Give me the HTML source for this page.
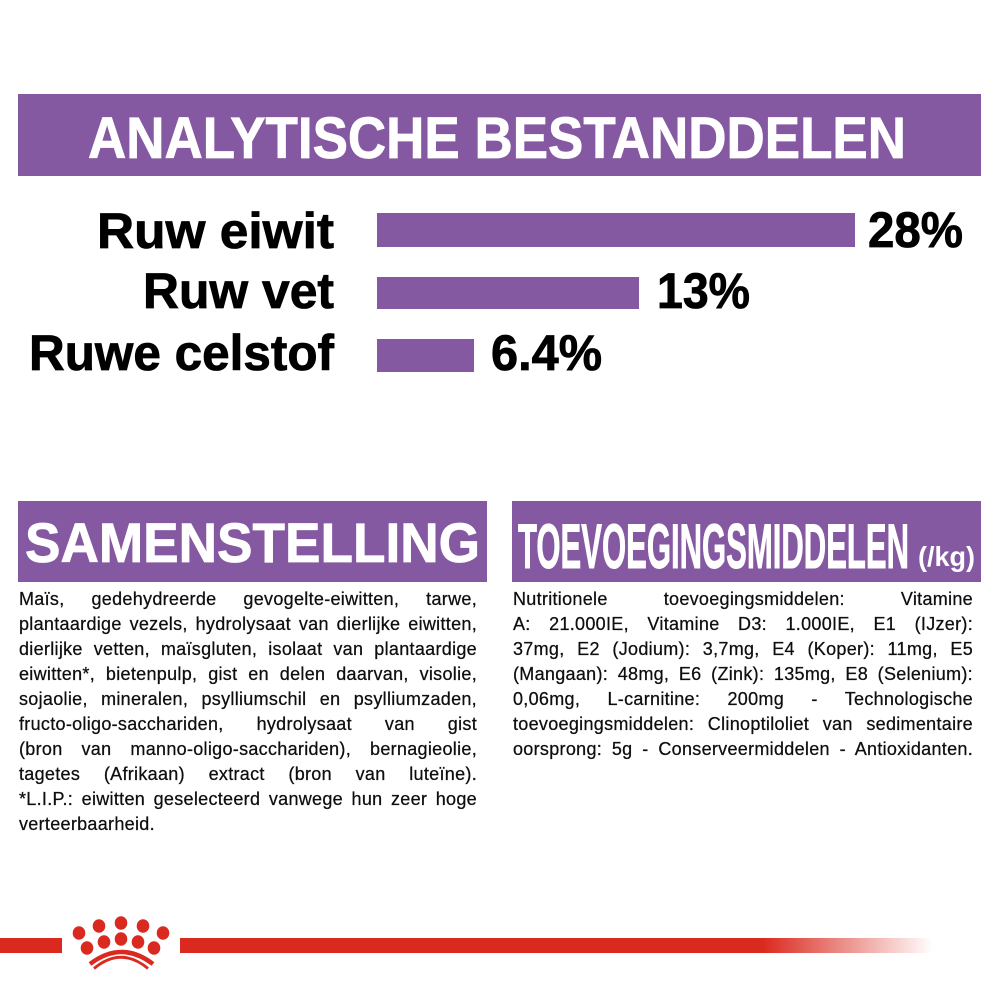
<!DOCTYPE html>
<html>
<head>
<meta charset="utf-8">
<style>
  html, body { margin:0; padding:0; background:#fff; }
  body { width:1000px; height:1000px; position:relative; overflow:hidden; }
  svg.main { position:absolute; left:0; top:0; }
  .col {
    position:absolute;
    font-family:"Liberation Sans", "DejaVu Sans", sans-serif;
    font-size:18px;
    line-height:25px;
    letter-spacing:0.3px;
    color:#0e0e0e;
    -webkit-text-stroke:0.25px #0e0e0e;
  }
  .col div { text-align:justify; text-align-last:justify; }
  .col div.last { text-align-last:left; }
</style>
</head>
<body>
<svg class="main" width="1000" height="1000" viewBox="0 0 1000 1000" xmlns="http://www.w3.org/2000/svg">
  <defs>
    <linearGradient id="fade" gradientUnits="userSpaceOnUse" x1="180" y1="0" x2="933" y2="0">
      <stop offset="0" stop-color="#da2a1f" stop-opacity="1"/>
      <stop offset="0.774" stop-color="#da2a1f" stop-opacity="1"/>
      <stop offset="1" stop-color="#da2a1f" stop-opacity="0"/>
    </linearGradient>
  </defs>

  <!-- Top banner -->
  <rect x="18" y="94" width="963" height="82" fill="#8559a2"/>
  <text x="88" y="158" textLength="818" lengthAdjust="spacingAndGlyphs"
        font-family="Liberation Sans, sans-serif" font-weight="bold" font-size="58.7" fill="#fff"
        stroke="#fff" stroke-width="0.8">ANALYTISCHE BESTANDDELEN</text>

  <!-- Bars -->
  <rect x="377" y="213" width="478" height="34" fill="#8559a2"/>
  <rect x="377" y="277" width="262" height="32" fill="#8559a2"/>
  <rect x="377" y="339" width="97" height="33" fill="#8559a2"/>

  <g font-family="Liberation Sans, sans-serif" font-weight="bold" font-size="50" fill="#000" stroke="#000" stroke-width="0.8">
    <text x="97" y="248" textLength="237" lengthAdjust="spacingAndGlyphs">Ruw eiwit</text>
    <text x="143" y="308" textLength="191" lengthAdjust="spacingAndGlyphs">Ruw vet</text>
    <text x="29" y="370" textLength="305" lengthAdjust="spacingAndGlyphs">Ruwe celstof</text>
    <text x="868" y="247" textLength="95" lengthAdjust="spacingAndGlyphs">28%</text>
    <text x="657" y="308" textLength="93" lengthAdjust="spacingAndGlyphs">13%</text>
    <text x="491" y="370" textLength="111" lengthAdjust="spacingAndGlyphs">6.4%</text>
  </g>

  <!-- Section headers -->
  <rect x="18" y="501" width="469" height="81" fill="#8559a2"/>
  <text x="25" y="562" textLength="455" lengthAdjust="spacingAndGlyphs"
        font-family="Liberation Sans, sans-serif" font-weight="bold" font-size="56" fill="#fff"
        stroke="#fff" stroke-width="0.8">SAMENSTELLING</text>

  <rect x="512" y="501" width="469" height="81" fill="#8559a2"/>
  <text x="518" y="568" textLength="391" lengthAdjust="spacingAndGlyphs"
        font-family="Liberation Sans, sans-serif" font-weight="bold" font-size="63" fill="#fff"
        stroke="#fff" stroke-width="1">TOEVOEGINGSMIDDELEN</text>
  <text x="918" y="566" textLength="57" lengthAdjust="spacingAndGlyphs"
        font-family="Liberation Sans, sans-serif" font-weight="bold" font-size="28" fill="#fff">(/kg)</text>

  <!-- Footer red line + paw -->
  <rect x="0" y="938" width="62" height="15" fill="#da2a1f"/>
  <rect x="180" y="938" width="753" height="15" fill="url(#fade)"/>
  <g fill="#da2a1f">
    <ellipse cx="79" cy="933" rx="6.3" ry="6.8"/>
    <ellipse cx="99" cy="926" rx="6.3" ry="6.8"/>
    <ellipse cx="121" cy="923" rx="6.3" ry="6.8"/>
    <ellipse cx="143" cy="926" rx="6.3" ry="6.8"/>
    <ellipse cx="163" cy="933" rx="6.3" ry="6.8"/>
    <ellipse cx="87" cy="948" rx="6.3" ry="6.8"/>
    <ellipse cx="104" cy="942" rx="6.3" ry="6.8"/>
    <ellipse cx="121" cy="939" rx="6.3" ry="6.8"/>
    <ellipse cx="138" cy="942" rx="6.3" ry="6.8"/>
    <ellipse cx="154" cy="948" rx="6.3" ry="6.8"/>
  </g>
  <path d="M90 964 Q121.5 940 153 964" stroke="#da2a1f" stroke-width="4.5" fill="none"/>
  <path d="M94 968.5 Q121 946 148 968.5" stroke="#da2a1f" stroke-width="2.8" fill="none"/>
</svg>

<div class="col" style="left:19px; top:587px; width:458px;">
  <div>Maïs, gedehydreerde gevogelte-eiwitten, tarwe,</div>
  <div>plantaardige vezels, hydrolysaat van dierlijke eiwitten,</div>
  <div>dierlijke vetten, maïsgluten, isolaat van plantaardige</div>
  <div>eiwitten*, bietenpulp, gist en delen daarvan, visolie,</div>
  <div>sojaolie, mineralen, psylliumschil en psylliumzaden,</div>
  <div>fructo-oligo-sacchariden, hydrolysaat van gist</div>
  <div>(bron van manno-oligo-sacchariden), bernagieolie,</div>
  <div>tagetes (Afrikaan) extract (bron van luteïne).</div>
  <div>*L.I.P.: eiwitten geselecteerd vanwege hun zeer hoge</div>
  <div class="last">verteerbaarheid.</div>
</div>

<div class="col" style="left:513px; top:587px; width:460px;">
  <div>Nutritionele toevoegingsmiddelen: Vitamine</div>
  <div>A: 21.000IE, Vitamine D3: 1.000IE, E1 (IJzer):</div>
  <div>37mg, E2 (Jodium): 3,7mg, E4 (Koper): 11mg, E5</div>
  <div>(Mangaan): 48mg, E6 (Zink): 135mg, E8 (Selenium):</div>
  <div>0,06mg, L-carnitine: 200mg - Technologische</div>
  <div>toevoegingsmiddelen: Clinoptiloliet van sedimentaire</div>
  <div>oorsprong: 5g - Conserveermiddelen - Antioxidanten.</div>
</div>
</body>
</html>
